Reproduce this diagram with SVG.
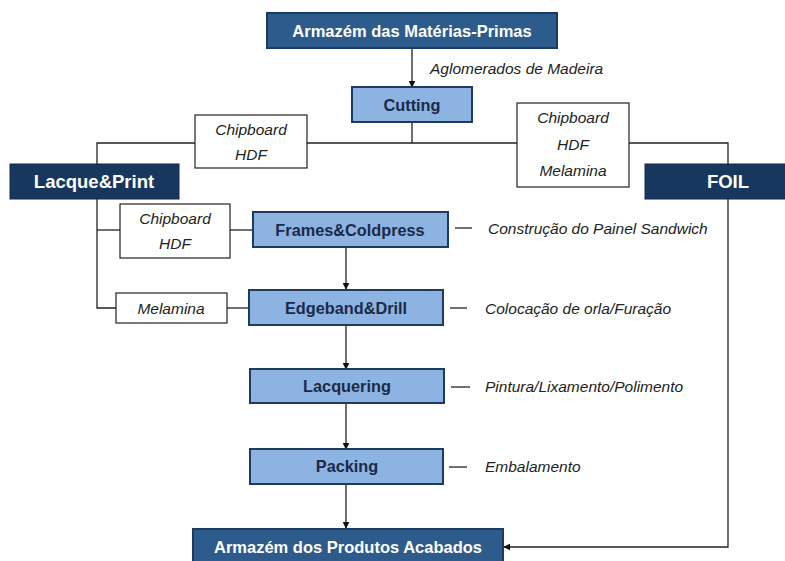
<svg xmlns="http://www.w3.org/2000/svg" width="785" height="561" viewBox="0 0 785 561">
  <defs>
    <marker id="arrow" viewBox="0 0 10 10" refX="9" refY="5" markerWidth="7" markerHeight="7" markerUnits="userSpaceOnUse" orient="auto">
      <path d="M0,0 L10,5 L0,10 z" fill="#111"/>
    </marker>
    <style>
      .store { fill: #2d5b8c; stroke: #1d3b60; stroke-width: 2; }
      .plant { fill: #17375e; stroke: #13294a; stroke-width: 1; }
      .proc { fill: #8db3e2; stroke: #1f3a5f; stroke-width: 2; }
      .mat { fill: #ffffff; stroke: #222; stroke-width: 1.2; }
      .link { fill: none; stroke: #222; stroke-width: 1.3; }
      .t-store { font-family: "Liberation Sans", Arial, sans-serif; font-weight: bold; font-size: 16.5px; fill: #ffffff; text-anchor: middle; }
      .t-plant { font-family: "Liberation Sans", Arial, sans-serif; font-weight: bold; font-size: 18.5px; fill: #ffffff; text-anchor: middle; }
      .t-proc { font-family: "Liberation Sans", Arial, sans-serif; font-weight: bold; font-size: 16.3px; fill: #1b2a47; text-anchor: middle; }
      .t-mat { font-family: "Liberation Sans", Arial, sans-serif; font-style: italic; font-size: 15.5px; fill: #222; text-anchor: middle; }
      .t-note { font-family: "Liberation Sans", Arial, sans-serif; font-style: italic; font-size: 15.5px; fill: #222; }
    </style>
  </defs>
  <rect width="785" height="561" fill="#ffffff"/>

  <!-- connectors -->
  <g id="connectors">
    <line class="link" x1="412" y1="48" x2="412" y2="87" marker-end="url(#arrow)"/>
    <polyline class="link" points="412,122 412,143"/>
    <polyline class="link" points="97,164 97,143 728,143 728,164"/>
    <polyline class="link" points="97,199 97,308 116,308"/>
    <line class="link" x1="97" y1="230" x2="120" y2="230"/>
    <line class="link" x1="230" y1="230" x2="253" y2="230"/>
    <line class="link" x1="227" y1="308" x2="249" y2="308"/>
    <line class="link" x1="346" y1="247" x2="346" y2="289" marker-end="url(#arrow)"/>
    <line class="link" x1="346" y1="325" x2="346" y2="369" marker-end="url(#arrow)"/>
    <line class="link" x1="346" y1="403" x2="346" y2="449" marker-end="url(#arrow)"/>
    <line class="link" x1="346" y1="484" x2="346" y2="528" marker-end="url(#arrow)"/>
    <polyline class="link" points="728,199 728,547 504,547" marker-end="url(#arrow)"/>
    <line class="link" x1="455" y1="228" x2="472" y2="228"/>
    <line class="link" x1="450" y1="308" x2="467" y2="308"/>
    <line class="link" x1="451" y1="387" x2="470" y2="387"/>
    <line class="link" x1="449" y1="467" x2="467" y2="467"/>
  </g>

  <!-- raw material store -->
  <g id="raw-store">
    <rect class="store" x="267" y="13" width="290" height="35"/>
    <text class="t-store" x="412" y="36.5">Armazém das Matérias-Primas</text>
  </g>
  <text class="t-note" x="430" y="74">Aglomerados de Madeira</text>

  <g id="cutting">
    <rect class="proc" x="352" y="87" width="120" height="35"/>
    <text class="t-proc" x="412" y="110.5">Cutting</text>
  </g>

  <g id="mat-left">
    <rect class="mat" x="195" y="115" width="112" height="53"/>
    <text class="t-mat" x="251" y="135">Chipboard</text>
    <text class="t-mat" x="251" y="160">HDF</text>
  </g>

  <g id="mat-right">
    <rect class="mat" x="517" y="103" width="112" height="84"/>
    <text class="t-mat" x="573" y="123">Chipboard</text>
    <text class="t-mat" x="573" y="150">HDF</text>
    <text class="t-mat" x="573" y="176">Melamina</text>
  </g>

  <g id="lacque-print">
    <rect class="plant" x="10" y="164" width="169" height="35"/>
    <text class="t-plant" x="94" y="188">Lacque&amp;Print</text>
  </g>

  <g id="foil">
    <rect class="plant" x="645" y="164" width="142" height="35"/>
    <text class="t-plant" x="728" y="188">FOIL</text>
  </g>

  <g id="mat-frames">
    <rect class="mat" x="120" y="204" width="110" height="54"/>
    <text class="t-mat" x="175" y="224">Chipboard</text>
    <text class="t-mat" x="175" y="249">HDF</text>
  </g>

  <g id="frames">
    <rect class="proc" x="253" y="212" width="195" height="35"/>
    <text class="t-proc" x="350" y="235.5">Frames&amp;Coldpress</text>
  </g>
  <text class="t-note" x="488" y="234">Construção do Painel Sandwich</text>

  <g id="mat-edge">
    <rect class="mat" x="116" y="293" width="111" height="30"/>
    <text class="t-mat" x="171" y="313.5">Melamina</text>
  </g>

  <g id="edgeband">
    <rect class="proc" x="249" y="290" width="194" height="35"/>
    <text class="t-proc" x="346" y="313.5">Edgeband&amp;Drill</text>
  </g>
  <text class="t-note" x="485" y="314">Colocação de orla/Furação</text>

  <g id="lacquering">
    <rect class="proc" x="250" y="369" width="194" height="34"/>
    <text class="t-proc" x="347" y="392">Lacquering</text>
  </g>
  <text class="t-note" x="485" y="392">Pintura/Lixamento/Polimento</text>

  <g id="packing">
    <rect class="proc" x="250" y="449" width="193" height="35"/>
    <text class="t-proc" x="347" y="472">Packing</text>
  </g>
  <text class="t-note" x="485" y="472">Embalamento</text>

  <!-- finished goods store -->
  <g id="finished-store">
    <rect class="store" x="193" y="529" width="310" height="34"/>
    <text class="t-store" x="348" y="553">Armazém dos Produtos Acabados</text>
  </g>
</svg>
